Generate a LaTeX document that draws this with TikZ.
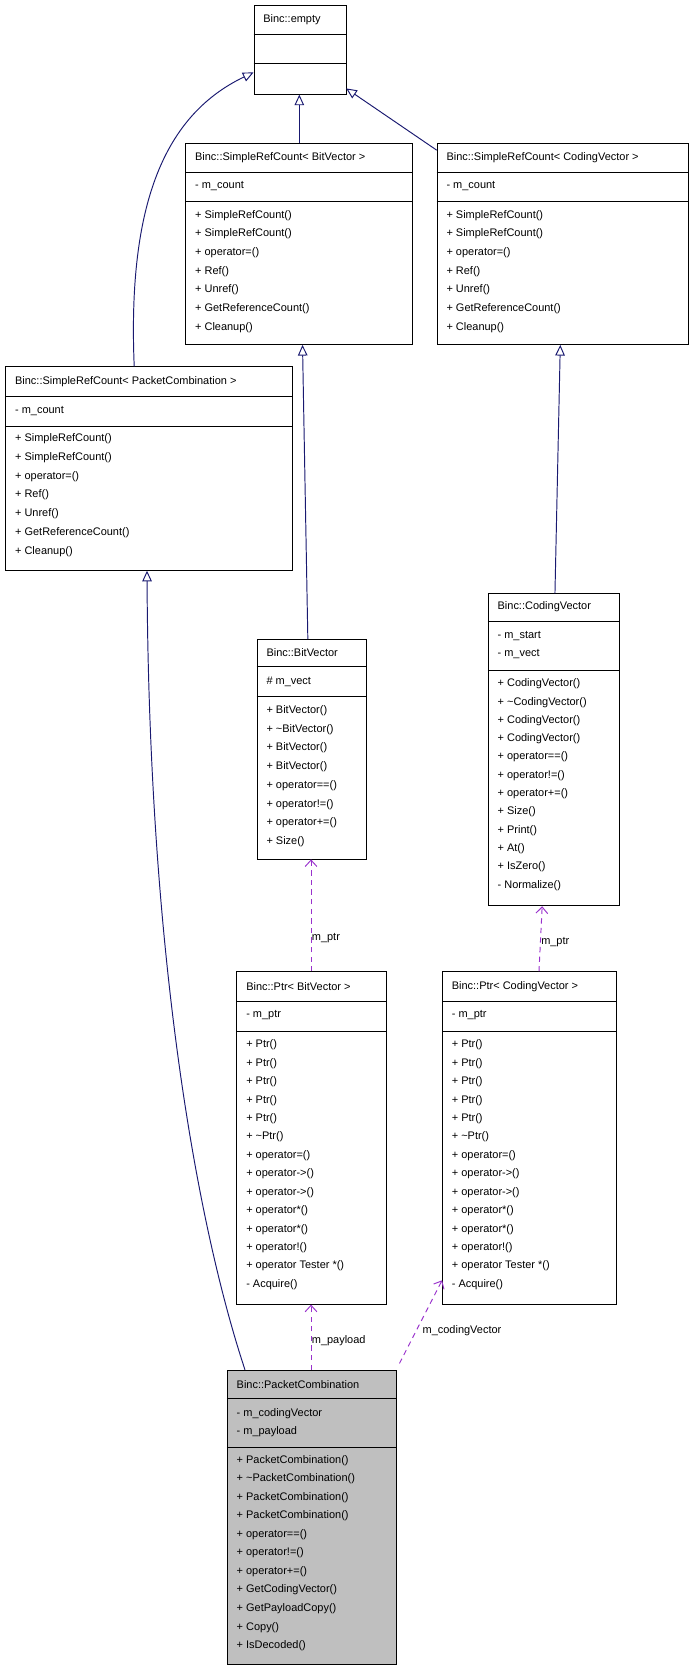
\documentclass[tikz,border=0pt]{standalone}
\usepackage{fontspec}
\setmainfont{Liberation Sans}
\usetikzlibrary{arrows.meta}
\definecolor{navy}{RGB}{25,25,112}
\definecolor{orch}{RGB}{153,50,204}
\definecolor{gfill}{RGB}{191,191,191}
\newcommand{\cls}[8]{% name x y w h sep1 sep2 fill
  \node[box,fill=#8,minimum width=#4pt,minimum height=#5pt,anchor=north west] (#1) at (#2,#3) {};
  \draw[thick] (#2,#6) -- ++(#4,0);
  \draw[thick] (#2,#7) -- ++(#4,0);}
\newcommand{\rows}[5]{% prefix x y0 dy list
  \foreach \t [count=\i] in {#5}{\node[txt] (#1\i) at (#2,{#3+(\i-1)*#4}) {\t};}}
\begin{document}
\begin{tikzpicture}[x=1pt,y=-1pt,
  box/.style={draw,thick,inner sep=0pt},
  txt/.style={anchor=west,inner sep=0pt,font=\fontsize{10.3}{12}\selectfont},
  inh/.style={navy,line width=0.9pt,-{Triangle[open,length=10pt,width=9pt]}},
  use/.style={orch,dashed,dash pattern=on 5pt off 4pt,-{Straight Barb[length=6pt,width=11pt]},line width=0.9pt}]
\useasboundingbox (0,0) rectangle (650,1565);
% Binc::empty
\cls{emp}{238}{5}{87}{83}{32}{60}{white}
\node[txt] (empt) at (247,18) {Binc::empty};
% SimpleRefCount<BitVector>
\cls{srb}{174}{134}{213}{189}{162}{189}{white}
\node[txt] (srbt) at (183,148) {Binc::SimpleRefCount< BitVector >};
\node[txt] (srba) at (183,175) {- m\_count};
\rows{srbm}{183}{202}{17.6}{+ SimpleRefCount(),+ SimpleRefCount(),+ operator=(),+ Ref(),+ Unref(),+ GetReferenceCount(),+ Cleanup()}
% SimpleRefCount<CodingVector>
\cls{src}{410}{134}{236}{189}{162}{189}{white}
\node[txt] (srct) at (419,148) {Binc::SimpleRefCount< CodingVector >};
\node[txt] (srca) at (419,175) {- m\_count};
\rows{srcm}{419}{202}{17.6}{+ SimpleRefCount(),+ SimpleRefCount(),+ operator=(),+ Ref(),+ Unref(),+ GetReferenceCount(),+ Cleanup()}
% SimpleRefCount<PacketCombination>
\cls{srp}{5}{344}{269}{191}{372}{400}{white}
\node[txt] (srpt) at (14,358) {Binc::SimpleRefCount< PacketCombination >};
\node[txt] (srpa) at (14,386) {- m\_count};
\rows{srpm}{14}{412}{17.6}{+ SimpleRefCount(),+ SimpleRefCount(),+ operator=(),+ Ref(),+ Unref(),+ GetReferenceCount(),+ Cleanup()}
% BitVector
\cls{bv}{241}{600}{103}{206}{626}{654}{white}
\node[txt] (bvt) at (250,613) {Binc::BitVector};
\node[txt] (bva) at (250,640) {\# m\_vect};
\rows{bvm}{250}{667}{17.6}{+ BitVector(),+ \textasciitilde BitVector(),+ BitVector(),+ BitVector(),+ operator==(),+ operator!=(),+ operator+=(),+ Size()}
% CodingVector
\cls{cv}{458}{557}{123}{293}{583}{629}{white}
\node[txt] (cvt) at (467,570) {Binc::CodingVector};
\rows{cva}{467}{597}{17}{- m\_start,- m\_vect}
\rows{cvm}{467}{642}{17.2}{+ CodingVector(),+ \textasciitilde CodingVector(),+ CodingVector(),+ CodingVector(),+ operator==(),+ operator!=(),+ operator+=(),+ Size(),+ Print(),+ At(),+ IsZero(),- Normalize()}
% Ptr<BitVector>
\cls{pb}{222}{912}{140}{312}{940}{968}{white}
\node[txt] (pbt) at (231,926) {Binc::Ptr< BitVector >};
\node[txt] (pba) at (231,953) {- m\_ptr};
\rows{pbm}{231}{981}{17.3}{+ Ptr(),+ Ptr(),+ Ptr(),+ Ptr(),+ Ptr(),+ \textasciitilde Ptr(),+ operator=(),+ operator->(),+ operator->(),+ operator*(),+ operator*(),+ operator!(),+ operator Tester *(),- Acquire()}
% Ptr<CodingVector>
\cls{pc}{415}{912}{163}{312}{940}{968}{white}
\node[txt] (pct) at (424,926) {Binc::Ptr< CodingVector >};
\node[txt] (pca) at (424,953) {- m\_ptr};
\rows{pcm}{424}{981}{17.3}{+ Ptr(),+ Ptr(),+ Ptr(),+ Ptr(),+ Ptr(),+ \textasciitilde Ptr(),+ operator=(),+ operator->(),+ operator->(),+ operator*(),+ operator*(),+ operator!(),+ operator Tester *(),- Acquire()}
% PacketCombination
\cls{pk}{213}{1286}{159}{276}{1313}{1359}{gfill}
\node[txt] (pkt) at (222,1300) {Binc::PacketCombination};
\rows{pka}{222}{1327}{17}{- m\_codingVector,- m\_payload}
\rows{pkm}{222}{1371}{17.4}{+ PacketCombination(),+ \textasciitilde PacketCombination(),+ PacketCombination(),+ PacketCombination(),+ operator==(),+ operator!=(),+ operator+=(),+ GetCodingVector(),+ GetPayloadCopy(),+ Copy(),+ IsDecoded()}
% inheritance
\draw[inh] (srb.north -| 281,0) -- (emp.south -| 281,0);
\draw[inh] (src.north west) ++(0,7) -- (325,83);
\draw[inh] (srp.north -| 126,0) .. controls (120,200) and (150,110) .. (emp.west |- 0,68);
\draw[inh] (bv.north -| 289,0) -- (srb.south -| 284,0);
\draw[inh] (cv.north -| 521,0) -- (src.south -| 526,0);
\draw[inh] (pk.north -| 230,0) .. controls (185,1150) and (140,900) .. (srp.south -| 138,0);
% usage
\draw[use] (pb.north -| 292,0) -- node[pos=0.3,right=-3pt,black,font=\fontsize{10.3}{12}\selectfont] (l1) {m\_ptr} (bv.south -| 292,0);
\draw[use] (pc.north -| 506,0) -- node[pos=0.45,right=-3pt,black,font=\fontsize{10.3}{12}\selectfont] (l2) {m\_ptr} (cv.south -| 509,0);
\draw[use] (pk.north -| 292,0) -- node[pos=0.45,right=-3pt,black,font=\fontsize{10.3}{12}\selectfont] (l3) {m\_payload} (pb.south -| 292,0);
\coordinate (cvs) at (375,1280);
\draw[use] (cvs) -- node[pos=0.4,right=2pt,black,font=\fontsize{10.3}{12}\selectfont] (l4) {m\_codingVector} (pc.west |- 0,1202);
\end{tikzpicture}
\end{document}
